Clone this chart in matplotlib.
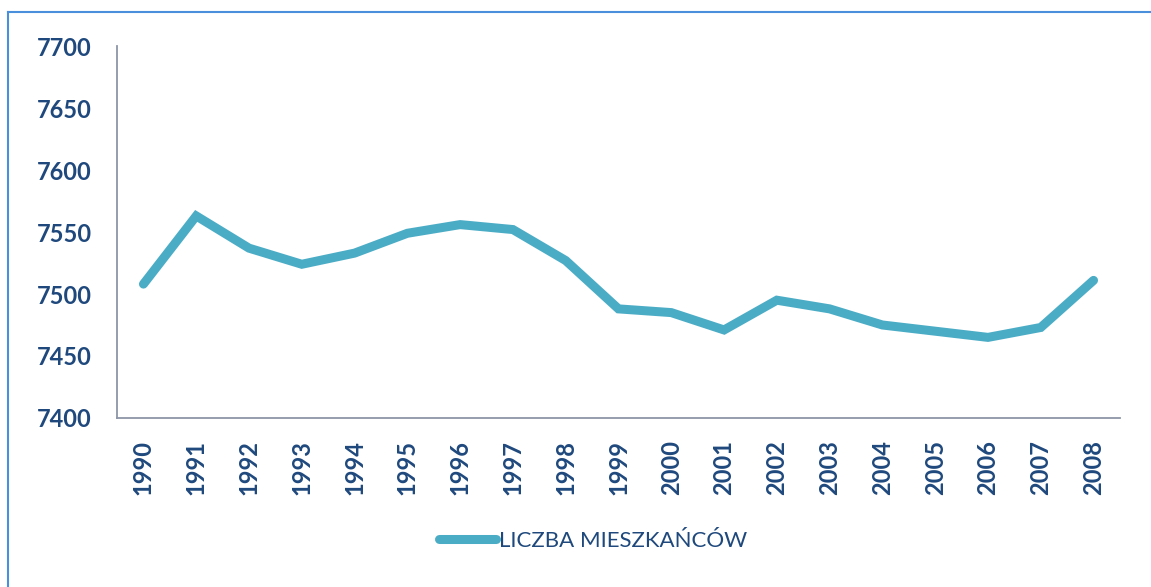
import matplotlib.pyplot as plt
from matplotlib.lines import Line2D

# %% DATA
years = [str(y) for y in range(1990, 2009)]
residents = [7508, 7563, 7537, 7524, 7533, 7549, 7556, 7552, 7527, 7488,
             7485, 7471, 7495, 7488, 7475, 7470, 7465, 7473, 7511]
y_ticks = [7400, 7450, 7500, 7550, 7600, 7650, 7700]
series_label = "LICZBA MIESZKAŃCÓW"

# %% STYLE
text_color = "#1F497D"
line_color = "#4BACC6"
spine_color = "#8E95A6"
frame_color = "#4A8FDB"
font = ["Lato", "DejaVu Sans"]

# %% FIGURE
fig = plt.figure(figsize=(11.51, 5.87), dpi=100)
ax = fig.add_axes([0.1017, 0.288, 0.8713, 0.6334])

x = range(len(years))
ax.plot(x, residents, color=line_color, lw=6.5, solid_capstyle="round",
        solid_joinstyle="miter")

ax.set_xlim(-0.5, len(years) - 0.5)
ax.set_ylim(y_ticks[0], y_ticks[-1])
ax.set_yticks(y_ticks)
ax.set_yticklabels([str(t) for t in y_ticks], family=font, fontweight="bold",
                   fontsize=17, color=text_color)
ax.set_xticks(list(x))
ax.set_xticklabels(years, rotation=90, family=font, fontweight="bold",
                   fontsize=17, color=text_color, va="top")
ax.tick_params(axis="both", length=0)
ax.tick_params(axis="y", pad=18)
ax.tick_params(axis="x", pad=16)

for side in ("top", "right"):
    ax.spines[side].set_visible(False)
for side in ("left", "bottom"):
    ax.spines[side].set_color(spine_color)
    ax.spines[side].set_linewidth(1.3)

# Legend below the chart
handle = Line2D([], [], color=line_color, lw=6.5, solid_capstyle="round")
fig.legend([handle], [series_label], loc="center", bbox_to_anchor=(0.515, 0.078),
           frameon=False, handlelength=2.6, handletextpad=0.1,
           prop={"family": font, "size": 16}, labelcolor=text_color)

# Outer frame (only top and left edges visible)
fig.add_artist(Line2D([8 / 1151, 8 / 1151], [0, 1 - 12 / 587], color=frame_color,
                      lw=1.5, transform=fig.transFigure))
fig.add_artist(Line2D([8 / 1151, 1], [1 - 12 / 587, 1 - 12 / 587], color=frame_color,
                      lw=1.5, transform=fig.transFigure))

fig.savefig("out.png", dpi=100)
